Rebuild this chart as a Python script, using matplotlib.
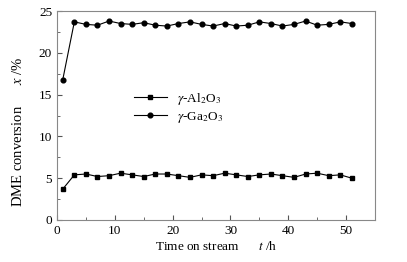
import numpy as np
import matplotlib.pyplot as plt
from matplotlib.ticker import MultipleLocator

plt.rcParams['font.family'] = ['Liberation Serif', 'DejaVu Serif']
plt.rcParams['mathtext.fontset'] = 'stix'

# time on stream (h)
t = np.arange(1, 52, 2)

# DME conversion (%)
al2o3 = [3.7, 5.4, 5.5, 5.2, 5.3, 5.6, 5.4, 5.2, 5.5, 5.5, 5.3, 5.1, 5.4,
         5.3, 5.6, 5.4, 5.2, 5.4, 5.5, 5.3, 5.1, 5.5, 5.6, 5.3, 5.4, 5.0]
ga2o3 = [16.8, 23.7, 23.4, 23.3, 23.8, 23.5, 23.4, 23.6, 23.3, 23.2, 23.5, 23.7, 23.4,
         23.2, 23.5, 23.2, 23.3, 23.7, 23.5, 23.2, 23.4, 23.8, 23.3, 23.4, 23.7, 23.5]

fig = plt.figure(figsize=(4.07, 2.62), dpi=100)
ax = fig.add_axes([57/407, 1 - 220/262, (375-57)/407, (220-11)/262])

ax.plot(t, al2o3, 'k-', marker='s', markersize=3.2, linewidth=0.8,
        label=r'$\gamma$-Al$_2$O$_3$')
ax.plot(t, ga2o3, 'k-', marker='o', markersize=3.4, linewidth=0.8,
        label=r'$\gamma$-Ga$_2$O$_3$')

ax.set_xlim(0, 55)
ax.set_ylim(0, 25)
ax.xaxis.set_major_locator(MultipleLocator(10))
ax.xaxis.set_minor_locator(MultipleLocator(5))
ax.yaxis.set_major_locator(MultipleLocator(5))
ax.yaxis.set_minor_locator(MultipleLocator(2.5))
ax.tick_params(which='both', direction='in', top=False, right=False,
               labelsize=9.5, color='#555555')
ax.tick_params(which='major', length=3.5)
ax.tick_params(which='minor', length=2)
for s in ax.spines.values():
    s.set_color('#888888')
    s.set_linewidth(0.8)

ax.set_xlabel(r'Time on stream      $\mathit{t}$ /h', fontsize=9.5, labelpad=2)
ax.set_ylabel(r'DME conversion      $\mathit{x}$ /%', fontsize=10.5, labelpad=2)
ax.yaxis.set_label_coords(-0.1, 0.42)

ax.legend(loc='upper left', bbox_to_anchor=(0.22, 0.65), frameon=False,
          fontsize=9.5, handlelength=2.5, labelspacing=0.25, borderpad=0)

fig.savefig('out.png', dpi=100)
